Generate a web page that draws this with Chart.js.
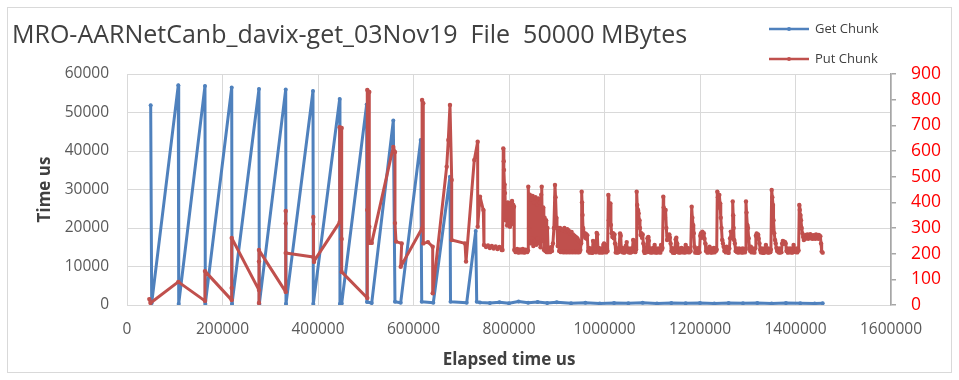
<!DOCTYPE html>
<html lang="en">
<head>
<meta charset="UTF-8" />
<title>MRO-AARNetCanb_davix-get_03Nov19</title>
<script src="https://cdn.jsdelivr.net/npm/chart.js"></script>
<style>
  html, body { margin: 0; padding: 0; background: #fff; }
  #wadah { width: 959px; height: 380px; }
</style>
</head>
<body>
<div id="wadah"><canvas id="grafik" width="959" height="380"></canvas></div>
<script>
// Get Chunk [elapsed us, time us] - left axis
const getChunk = [
  [49600, 51900], [51700, 500], [107400, 57100], [108300, 300], [163300, 56900], [164000, 300],
  [219300, 56500], [219900, 300], [276400, 56100], [277100, 300], [332400, 56000], [333000, 300],
  [389500, 55600], [390200, 300], [445400, 53500], [446000, 300], [449600, 400], [501900, 52100],
  [502600, 800], [512500, 500], [557700, 47900], [561200, 850], [573200, 600], [615100, 42850],
  [617200, 850], [641500, 600], [676400, 33300], [677500, 850], [711400, 600], [730300, 19200],
  [732400, 850], [739300, 650], [760000, 500], [780000, 700], [800000, 450], [820000, 900],
  [840000, 600], [860000, 800], [880000, 500], [900000, 700], [930000, 450], [960000, 600],
  [990000, 400], [1020000, 550], [1050000, 450], [1080000, 600], [1110000, 400], [1140000, 500],
  [1170000, 450], [1200000, 550], [1230000, 400], [1260000, 500], [1290000, 450], [1320000, 550],
  [1350000, 400], [1380000, 500], [1410000, 450], [1440000, 400], [1457000, 450]
];

// Put Chunk [elapsed us, time us] - right axis
const putChunk = [
  [46700, 23], [49200, 8], [107400, 90], [163300, 16], [163300, 132], [219300, 19], [219300, 66],
  [219300, 261], [276400, 58], [276400, 8], [276400, 169], [276400, 214], [332400, 51], [332400, 366],
  [332400, 318], [332400, 203], [390200, 187], [390200, 343], [390200, 316], [391600, 168],
  [445400, 323], [445400, 693], [449600, 690], [449600, 257], [449600, 129], [503200, 27],
  [503200, 370], [503200, 838], [507400, 830], [507400, 305], [507400, 242], [512500, 242],
  [557700, 616], [561200, 596], [561200, 319], [563400, 247], [575300, 240], [573200, 149],
  [618000, 299], [618000, 799], [620500, 786], [620500, 240], [630300, 245], [640200, 227],
  [640200, 46], [669500, 539], [672900, 643], [676400, 779], [680000, 487], [680000, 253],
  [707900, 240], [710000, 169], [727300, 565], [734400, 636], [734400, 305], [739300, 422],
  [746200, 370], [747600, 234],
  [752000, 226], [756000, 232], [760000, 222], [764000, 230], [768000, 220], [772000, 228],
  [776000, 218], [780000, 226], [784700, 214], [786500, 214],
  [788000, 610], [789000, 560], [789500, 526], [790500, 470], [791600, 436], [793000, 330],
  [794500, 395], [796000, 310], [797500, 400], [799000, 320], [800500, 390], [802000, 305],
  [803500, 398], [805000, 315], [806300, 405], [807500, 320], [809000, 390], [810500, 383],
  [811000, 214], [814000, 206], [817000, 218], [820000, 204], [823000, 216], [826000, 205],
  [829000, 218], [832000, 204], [835000, 215], [838000, 206], [839800, 212],
  [840400, 461], [842000, 300], [843500, 430], [845000, 240], [846500, 410], [848000, 260],
  [849500, 425], [851000, 230], [852500, 400], [854000, 250], [855500, 420], [857000, 235],
  [858500, 390], [860000, 260], [861500, 415], [863000, 240], [864500, 400], [866000, 225],
  [867500, 430], [868500, 461], [870000, 250], [871500, 380], [873000, 215], [874500, 340],
  [876000, 210], [877500, 330], [879000, 206], [880500, 300], [882000, 206], [884000, 222],
  [886000, 206], [888000, 225], [890000, 210], [892000, 240], [894000, 300],
  [896300, 468], [897500, 420], [899000, 340], [900500, 300], [902000, 230], [903500, 300],
  [905000, 210], [906800, 300], [908500, 206], [910000, 295], [911500, 210], [913000, 290],
  [914500, 205], [916000, 300], [917500, 210], [919000, 285], [920500, 205], [922000, 295],
  [923500, 208], [925000, 290], [926500, 205], [928000, 280], [929500, 210], [931000, 285],
  [932500, 205], [934000, 275], [935500, 208], [937000, 270], [938500, 205], [940000, 265],
  [941500, 210], [943000, 260], [944500, 205], [946000, 250], [947500, 206], [949500, 214],
  [951000, 240],
  [952200, 441], [953000, 400], [954000, 351], [955000, 300], [956500, 273], [958000, 280],
  [959500, 262], [961000, 278], [962500, 258], [964000, 272], [965500, 210], [967000, 222],
  [968500, 204], [970000, 220], [971500, 205], [973000, 218], [974500, 203], [976000, 250],
  [977500, 245], [979000, 208], [980500, 220], [982000, 205], [983600, 281], [985000, 275],
  [986500, 210], [988000, 222], [989500, 204], [991000, 218], [992500, 206], [994000, 220],
  [995500, 204], [997500, 234], [999000, 240], [1000500, 206], [1002000, 218], [1003500, 205],
  [1005000, 220], [1006500, 210],
  [1008000, 429], [1009000, 330], [1010500, 360], [1012000, 396], [1013500, 312], [1015000, 280],
  [1016500, 265], [1018000, 280], [1019500, 260], [1021000, 275], [1022000, 240], [1023500, 205],
  [1025000, 218], [1026500, 204], [1028000, 220], [1029500, 206], [1032500, 279], [1034000, 270],
  [1035500, 208], [1037000, 222], [1038500, 205], [1040000, 218], [1041500, 204], [1043000, 220],
  [1044500, 230], [1046500, 245], [1048000, 207], [1049500, 220], [1051000, 205], [1052500, 218],
  [1054000, 204], [1055500, 220], [1057000, 206], [1058500, 218], [1060000, 253], [1061500, 210],
  [1063000, 222], [1064500, 206], [1066000, 215],
  [1067400, 441], [1068500, 390], [1070200, 370], [1071500, 357], [1073000, 330], [1074300, 300],
  [1075500, 273], [1077000, 280], [1078500, 262], [1080000, 275], [1081300, 240], [1082500, 210],
  [1084000, 203], [1085500, 218], [1087000, 205], [1088500, 220], [1090000, 260], [1091700, 265],
  [1093000, 250], [1094500, 206], [1096000, 220], [1097500, 204], [1099000, 218], [1100500, 206],
  [1102000, 222], [1103500, 205], [1105000, 234], [1106500, 220], [1108000, 204], [1109500, 218],
  [1111000, 205], [1112500, 220], [1114000, 206], [1115500, 218], [1117000, 204], [1118400, 234],
  [1120000, 215], [1121500, 222],
  [1123100, 422], [1124000, 380], [1125500, 370], [1126700, 340], [1128000, 370], [1129500, 300],
  [1131000, 253], [1132500, 270], [1134000, 258], [1135500, 275], [1137000, 262], [1138500, 240],
  [1140000, 210], [1141500, 221], [1143000, 204], [1144500, 218], [1146000, 203], [1147500, 220],
  [1149000, 255], [1150500, 262], [1152000, 240], [1153500, 206], [1155000, 220], [1156500, 204],
  [1158000, 218], [1159500, 206], [1161000, 222], [1162500, 205], [1164000, 220], [1165500, 206],
  [1167000, 218], [1168500, 204], [1170000, 234], [1171500, 215], [1173000, 222], [1174500, 206],
  [1176000, 220], [1177500, 205], [1179000, 218], [1180500, 210],
  [1182600, 383], [1184000, 340], [1185500, 312], [1187000, 280], [1188500, 227], [1190000, 204],
  [1191500, 220], [1193000, 205], [1194500, 218], [1196000, 203], [1197500, 222], [1199000, 206],
  [1200500, 270], [1202000, 280], [1203500, 262], [1205000, 286], [1206500, 270], [1208000, 280],
  [1209500, 258], [1211000, 240], [1212500, 210], [1214000, 220], [1215500, 204], [1217000, 218],
  [1218500, 206], [1220000, 227], [1221500, 205], [1223000, 220], [1224500, 204], [1226000, 218],
  [1227500, 206], [1229000, 222], [1230500, 205], [1232000, 220], [1233500, 210], [1235000, 215],
  [1236200, 441], [1237500, 420], [1239000, 380], [1240500, 429], [1242000, 396], [1243500, 340],
  [1245000, 300], [1246500, 253], [1248000, 240], [1249500, 227], [1251000, 210], [1252500, 222],
  [1254000, 205], [1255500, 227], [1257000, 206], [1258500, 218], [1260000, 203], [1261500, 220],
  [1263000, 260], [1264500, 286], [1266000, 270], [1267500, 260],
  [1268500, 403], [1269500, 350], [1270500, 300], [1271500, 253], [1273000, 240], [1274500, 210],
  [1276000, 220], [1277500, 206], [1279000, 218], [1280500, 204], [1282000, 220], [1283500, 214],
  [1285000, 206], [1286500, 218], [1288000, 204], [1289500, 220], [1291000, 206], [1292500, 218],
  [1294000, 205], [1295500, 215],
  [1296300, 403], [1297500, 360], [1299000, 312], [1300500, 300], [1302000, 260], [1303500, 222],
  [1305000, 210], [1306500, 227], [1308000, 205], [1309500, 220], [1311000, 206], [1312500, 218],
  [1314000, 204], [1315500, 220], [1317000, 270], [1318700, 279], [1320000, 265], [1321500, 275],
  [1323000, 258], [1324500, 240], [1326000, 214], [1327500, 205], [1329000, 220], [1330500, 204],
  [1332000, 218], [1333500, 203], [1335000, 220], [1336500, 206], [1338000, 234], [1339500, 218],
  [1341000, 205], [1342500, 220], [1344000, 204], [1345500, 218], [1347000, 206], [1348500, 215],
  [1350100, 448], [1351500, 420], [1352900, 390], [1354000, 330], [1355500, 280], [1357100, 253],
  [1358500, 240], [1360000, 222], [1361500, 210], [1363000, 214], [1364500, 205], [1366000, 220],
  [1367500, 204], [1369000, 218], [1370500, 206], [1372000, 240], [1373500, 250], [1375000, 238],
  [1376500, 247], [1378000, 245], [1379500, 240], [1381000, 210], [1382500, 220], [1384000, 204],
  [1385500, 218], [1387000, 206], [1388500, 220], [1390000, 205], [1391500, 218], [1393000, 204],
  [1394500, 220], [1396000, 234], [1397500, 208], [1399000, 220], [1400500, 206], [1402000, 218],
  [1403500, 205], [1405000, 220], [1406500, 212],
  [1407900, 390], [1409000, 370], [1410000, 351], [1411500, 330], [1413000, 300], [1414500, 279],
  [1416000, 265], [1417500, 253], [1419000, 270], [1420500, 258], [1422000, 273], [1423500, 262],
  [1425000, 275], [1426500, 258], [1428000, 270], [1429500, 262], [1431000, 276], [1432500, 260],
  [1434000, 270], [1435500, 258], [1437000, 272], [1438500, 260], [1440000, 270], [1441500, 258],
  [1443000, 275], [1444500, 262], [1446000, 270], [1447500, 258], [1449000, 273], [1450500, 262],
  [1452000, 268], [1453500, 240], [1454800, 208], [1456900, 204]
];

const xTicks = { min: 0, max: 1600000, step: 200000 };
const yTicks = { min: 0, max: 60000, step: 10000 };
const y1Ticks = { min: 0, max: 900, step: 100 };

const judul = 'MRO-AARNetCanb_davix-get_03Nov19  File  50000 MBytes';
const huruf = '"Open Sans", "Noto Sans", sans-serif';
const biru = '#4F81BD';
const merah = '#C0504D';

function keTitik(pasangan) {
  return pasangan.map(p => ({ x: p[0], y: p[1] }));
}

// frame, title and legend are drawn by hand, Excel style
const hiasan = {
  id: 'hiasan',
  beforeDraw(chart) {
    const ctx = chart.ctx;
    ctx.save();
    ctx.fillStyle = '#ffffff';
    ctx.fillRect(0, 0, chart.width, chart.height);
    ctx.strokeStyle = '#d9d9d9';
    ctx.lineWidth = 1;
    ctx.strokeRect(7.5, 7.5, 944, 365);
    ctx.restore();
  },
  afterDraw(chart) {
    const ctx = chart.ctx;
    ctx.save();
    ctx.fillStyle = '#404040';
    ctx.font = '25px ' + huruf;
    ctx.textBaseline = 'alphabetic';
    ctx.fillText(judul, 12, 43);

    const item = [['Get Chunk', biru, 29], ['Put Chunk', merah, 59]];
    item.forEach(([teks, warna, y]) => {
      ctx.strokeStyle = warna;
      ctx.lineWidth = 2.5;
      ctx.beginPath();
      ctx.moveTo(769, y);
      ctx.lineTo(809, y);
      ctx.stroke();
      ctx.fillStyle = warna;
      ctx.beginPath();
      ctx.arc(789, y, 2, 0, Math.PI * 2);
      ctx.fill();
      ctx.fillStyle = '#404040';
      ctx.font = '13px ' + huruf;
      ctx.textBaseline = 'middle';
      ctx.fillText(teks, 815, y);
    });
    ctx.restore();
  }
};

const ctx = document.getElementById('grafik').getContext('2d');
const grafik = new Chart(ctx, {
  type: 'line',
  data: {
    datasets: [
      {
        label: 'Get Chunk',
        data: keTitik(getChunk),
        yAxisID: 'y',
        borderColor: biru,
        backgroundColor: biru,
        borderWidth: 3,
        borderJoinStyle: 'round',
        borderCapStyle: 'round',
        pointRadius: 2,
        pointBorderWidth: 0,
        fill: false,
        tension: 0,
        order: 1
      },
      {
        label: 'Put Chunk',
        data: keTitik(putChunk),
        yAxisID: 'y1',
        borderColor: merah,
        backgroundColor: merah,
        borderWidth: 3,
        borderJoinStyle: 'round',
        borderCapStyle: 'round',
        pointRadius: 2.2,
        pointBorderWidth: 0,
        fill: false,
        tension: 0,
        order: 0
      }
    ]
  },
  options: {
    responsive: false,
    animation: false,
    events: [],
    layout: { padding: { top: 74, left: 0, right: 0, bottom: 0 } },
    plugins: {
      legend: { display: false },
      title: { display: false },
      tooltip: { enabled: false }
    },
    scales: {
      x: {
        type: 'linear',
        position: 'bottom',
        min: xTicks.min,
        max: xTicks.max,
        ticks: {
          stepSize: xTicks.step,
          callback: v => String(v),
          color: '#595959',
          font: { family: huruf, size: 15.5 },
          padding: 15,
          maxRotation: 0,
          autoSkip: false
        },
        grid: { color: '#d9d9d9', drawTicks: false },
        border: { display: true, color: '#d9d9d9' },
        title: {
          display: true,
          text: 'Elapsed time us',
          color: '#404040',
          font: { family: huruf, size: 17, weight: 'bold' },
          padding: { bottom: 10 }
        },
        afterFit(s) { s.height = 75; }
      },
      y: {
        position: 'left',
        min: yTicks.min,
        max: yTicks.max,
        ticks: {
          stepSize: yTicks.step,
          callback: v => String(v),
          color: '#595959',
          font: { family: huruf, size: 15.5 },
          padding: 18
        },
        grid: { color: '#d9d9d9', drawTicks: false },
        border: { display: false },
        title: {
          display: true,
          text: 'Time us',
          color: '#404040',
          font: { family: huruf, size: 17, weight: 'bold' },
          padding: { top: 35 }
        },
        afterFit(s) { s.width = 127; }
      },
      y1: {
        position: 'right',
        min: y1Ticks.min,
        max: y1Ticks.max,
        ticks: {
          stepSize: y1Ticks.step,
          callback: v => String(v),
          color: '#ff0000',
          font: { family: huruf, size: 17.5 },
          padding: 15
        },
        grid: { drawOnChartArea: false, drawTicks: true, tickLength: 5, color: '#a6a6a6', lineWidth: 1.5 },
        border: { display: true, color: '#a6a6a6', width: 1.5 },
        afterFit(s) { s.width = 68; }
      }
    }
  },
  plugins: [hiasan]
});
</script>
</body>
</html>
